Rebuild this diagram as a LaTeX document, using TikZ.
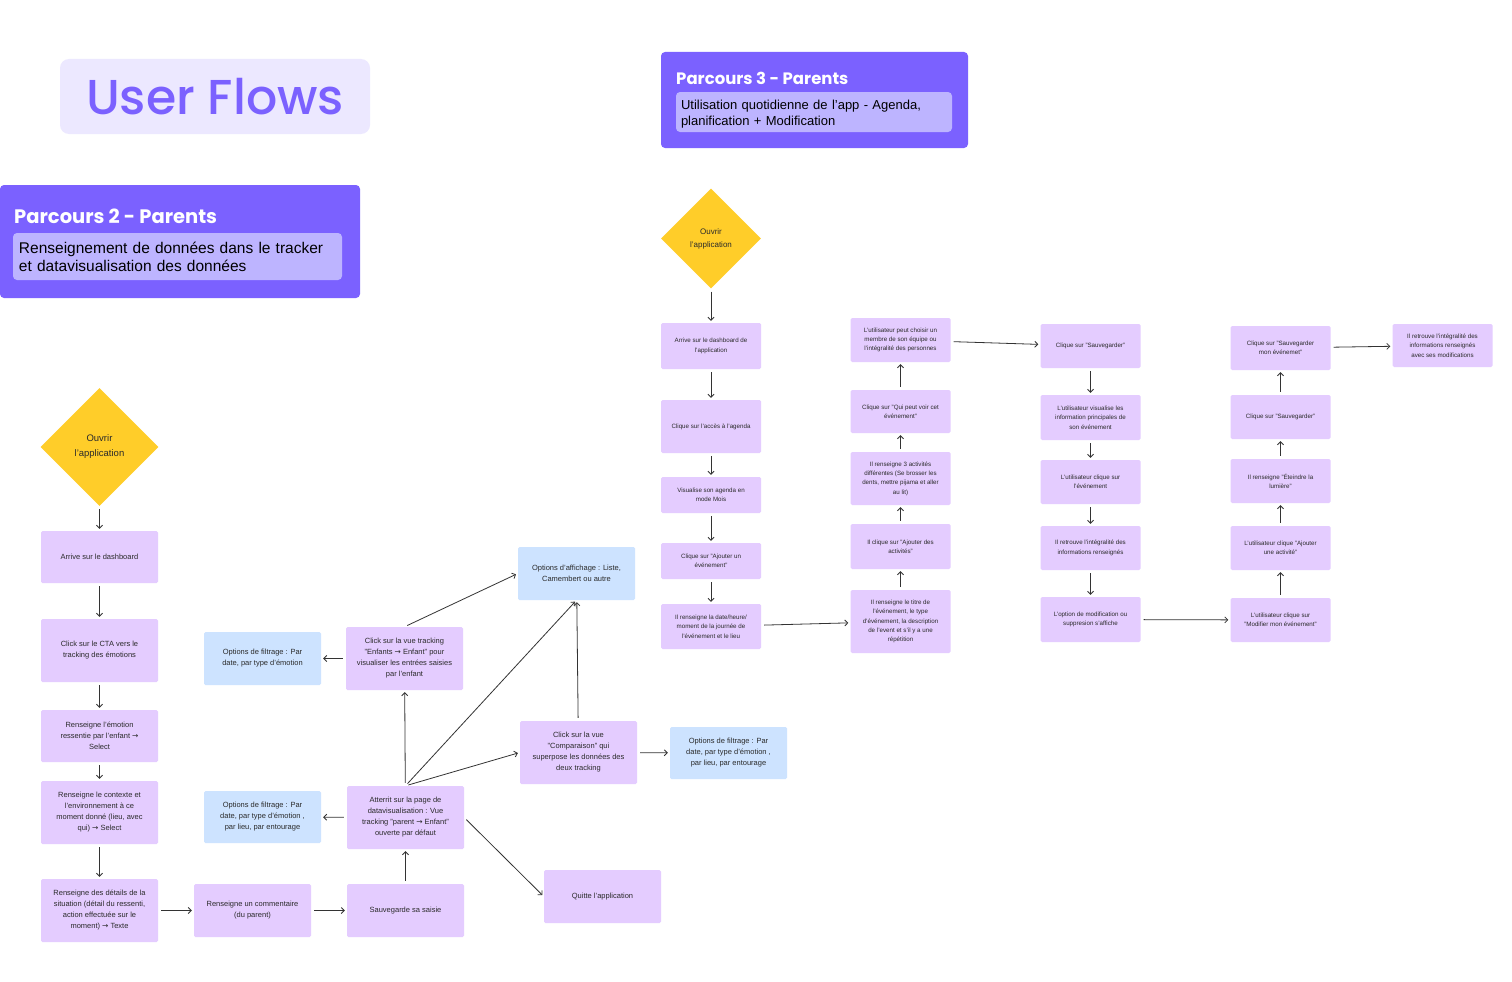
\documentclass[tikz,border=0pt]{standalone}
\usepackage{fontspec}
\setmainfont{Liberation Sans}
\newfontfamily\poppins{Poppins}
\newfontfamily\poppinsmed{Poppins Medium}
\newfontfamily\symboles{DejaVu Sans}
\usetikzlibrary{shapes.geometric, arrows.meta}

\definecolor{violetfonce}{HTML}{7B61FF}
\definecolor{violetmoyen}{HTML}{BDB4FF}
\definecolor{violetpale}{HTML}{ECE8FF}
\definecolor{violetclair}{HTML}{E4CCFF}
\definecolor{bleuclair}{HTML}{CDE3FF}
\definecolor{jaune}{HTML}{FFCD29}
\definecolor{trait}{HTML}{333333}
\definecolor{texte}{HTML}{2A2A2A}

\newcommand{\fl}{{\symboles →}}

\tikzset{
  etape/.style={rectangle, rounded corners=1.5pt, fill=violetclair, minimum width=117pt,
    inner sep=0pt, align=center, text=texte, font=\fontsize{7.5}{11}\selectfont},
  option/.style={etape, fill=bleuclair},
  petite/.style={etape, minimum width=100pt, font=\fontsize{6.2}{9.3}\selectfont},
  losange/.style={diamond, fill=jaune, inner sep=0pt, align=center, text=texte},
  fleche/.style={-{Straight Barb[length=3pt,width=6pt]}, line width=0.8pt, draw=trait,
    shorten <=3pt, shorten >=2pt},
}

\begin{document}
\begin{tikzpicture}[x=1pt, y=-1pt]

    \fill[white] (0,0) rectangle (1512,982);
    \useasboundingbox (0,0) rectangle (1512,982);

    % -- Titre --
    \node (titre) [fill=violetpale, rounded corners=9pt, minimum width=310pt, minimum height=75pt,
        text=violetfonce, font=\poppinsmed\fontsize{49}{49}\selectfont] at (215,96.5) {User Flows};

    % -- En-tete Parcours 2 --
    \node (bandeau2) [fill=violetfonce, rounded corners=4pt, minimum width=360pt, minimum height=113pt] at (180,241.5) {};
    \node (nom2) [anchor=west, inner sep=0pt, text=white, font=\poppins\bfseries\fontsize{19.5}{19.5}\selectfont] at (14,216) {Parcours 2 - Parents};
    \node (sous2) [fill=violetmoyen, rounded corners=4pt, minimum width=329pt, minimum height=47pt,
        text width=317pt, align=left, font=\fontsize{15.5}{18}\selectfont] at (177.5,256.5)
        {Renseignement de données dans le tracker\\et datavisualisation des données};

    % -- En-tete Parcours 3 --
    \node (bandeau3) [fill=violetfonce, rounded corners=4pt, minimum width=307pt, minimum height=96pt] at (814.5,100) {};
    \node (nom3) [anchor=west, inner sep=0pt, text=white, font=\poppins\bfseries\fontsize{16.5}{16.5}\selectfont] at (676,78) {Parcours 3 - Parents};
    \node (sous3) [fill=violetmoyen, rounded corners=4pt, minimum width=276pt, minimum height=40pt,
        text width=266pt, align=left, font=\fontsize{13}{15.5}\selectfont] at (814,112) {};
    \node (texte3) [text width=266pt, align=left, inner sep=0pt, font=\fontsize{13}{15.5}\selectfont] at (814,114)
        {Utilisation quotidienne de l'app - Agenda,\\planification + Modification};

    % -- Parcours 2 : saisie --
    \node (ouvrir2) [losange, minimum width=118pt, minimum height=118pt, font=\fontsize{9.5}{15}\selectfont] at (99.5,447) {Ouvrir\\l'application};
    \node (a1) [etape, minimum height=52pt] at (99.5,557) {Arrive sur le dashboard};
    \node (a2) [etape, minimum height=63pt] at (99.5,650.5) {Click sur le CTA vers le\\tracking des émotions};
    \node (a3) [etape, minimum height=52pt] at (99.5,736) {Renseigne l'émotion\\ressentie par l'enfant \fl\\Select};
    \node (a4) [etape, minimum height=63pt] at (99.5,812.5) {Renseigne le contexte et\\l'environnement à ce\\moment donné (lieu, avec\\qui) \fl{} Select};
    \node (a5) [etape, minimum height=63pt] at (99.5,910.5) {Renseigne des détails de la\\situation (détail du ressenti,\\action effectuée sur le\\moment) \fl{} Texte};
    \node (b1) [etape, minimum height=53pt] at (252.5,910.5) {Renseigne un commentaire\\(du parent)};
    \node (b2) [etape, minimum height=53pt] at (405.5,910.5) {Sauvegarde sa saisie};

    % -- Parcours 2 : datavisualisation --
    \node (c1) [etape, minimum height=63pt] at (405.5,817.5) {Atterrit sur la page de\\datavisualisation : Vue\\tracking "parent \fl{} Enfant"\\ouverte par défaut};
    \node (f2) [option, minimum height=52pt] at (262.5,817) {Options de filtrage : Par\\date, par type d'émotion ,\\par lieu, par entourage};
    \node (d1) [etape, minimum height=63pt] at (404.5,658.5) {Click sur la vue tracking\\"Enfants \fl{} Enfant" pour\\visualiser les entrées saisies\\par l'enfant};
    \node (f1) [option, minimum height=53pt] at (262.5,658.5) {Options de filtrage : Par\\date, par type d'émotion};
    \node (e1) [option, minimum height=53pt] at (576.5,573.5) {Options d'affichage : Liste,\\Camembert ou autre};
    \node (g1) [etape, minimum height=63pt] at (578.5,752.5) {Click sur la vue\\"Comparaison" qui\\superpose les données des\\deux tracking};
    \node (h1) [option, minimum height=52pt] at (728.5,753) {Options de filtrage : Par\\date, par type d'émotion ,\\par lieu, par entourage};
    \node (quitte) [etape, minimum height=53pt] at (602.5,896.5) {Quitte l'application};

    \draw[fleche] (ouvrir2) -- (a1);
    \draw[fleche] (a1) -- (a2);
    \draw[fleche] (a2) -- (a3);
    \draw[fleche] (a3) -- (a4);
    \draw[fleche] (a4) -- (a5);
    \draw[fleche] (a5) -- (b1);
    \draw[fleche] (b1) -- (b2);
    \draw[fleche] (b2) -- (c1);
    \draw[fleche] (c1) -- (f2);
    \draw[fleche] (c1) -- (d1);
    \draw[fleche] (d1) -- (f1);
    \draw[fleche] (d1.north) -- (e1.west);
    \draw[fleche] (c1.north) -- (e1.south);
    \draw[fleche] (c1.north) -- (g1.west);
    \draw[fleche] (g1) -- (e1);
    \draw[fleche] (g1) -- (h1);
    \draw[fleche] (c1.east) -- (quitte.west);

    % -- Parcours 3 : agenda --
    \node (ouvrir3) [losange, minimum width=100pt, minimum height=100pt, font=\fontsize{8}{13}\selectfont] at (711,238.5) {Ouvrir\\l'application};
    \node (p1) [petite, minimum height=46pt] at (711,346) {Arrive sur le dashboard de\\l'application};
    \node (p2) [petite, minimum height=53pt] at (711,426.5) {Clique sur l'accès à l'agenda};
    \node (p3) [petite, minimum height=36pt] at (711,495) {Visualise son agenda en\\mode Mois};
    \node (p4) [petite, minimum height=36pt] at (711,561) {Clique sur "Ajouter un\\événement"};
    \node (p5) [petite, minimum height=45pt] at (711,626.5) {Il renseigne la date/heure/\\moment de la journée de\\l'événement et le lieu};

    \node (q1) [petite, minimum height=44pt] at (900.5,340) {L'utilisateur peut choisir un\\membre de son équipe ou\\l'intégralité des personnes};
    \node (q2) [petite, minimum height=43pt] at (900.5,411.5) {Clique sur "Qui peut voir cet\\événement"};
    \node (q3) [petite, minimum height=53pt] at (900.5,478.5) {Il renseigne 3 activités\\différentes (Se brosser les\\dents, mettre pijama et aller\\au lit)};
    \node (q4) [petite, minimum height=45pt] at (900.5,546.5) {Il clique sur "Ajouter des\\activités"};
    \node (q5) [petite, minimum height=63pt] at (900.5,621.5) {Il renseigne le titre de\\l'événement, le type\\d'événement, la description\\de l'event et s'il y a une\\répétition};

    \node (r1) [petite, minimum height=44pt] at (1090.5,346) {Clique sur "Sauvegarder"};
    \node (r2) [petite, minimum height=45pt] at (1090.5,417.5) {L'utilisateur visualise les\\information principales de\\son événement};
    \node (r3) [petite, minimum height=44pt] at (1090.5,482) {L'utilisateur clique sur\\l'événement};
    \node (r4) [petite, minimum height=44pt] at (1090.5,548) {Il retrouve l'intégralité des\\informations renseignés};
    \node (r5) [petite, minimum height=45pt] at (1090.5,619.5) {L'option de modification ou\\suppresion s'affiche};

    \node (s1) [petite, minimum height=44pt] at (1280.5,348) {Clique sur "Sauvegarder\\mon événemet"};
    \node (s2) [petite, minimum height=44pt] at (1280.5,417) {Clique sur "Sauvegarder"};
    \node (s3) [petite, minimum height=44pt] at (1280.5,481) {Il renseigne "Éteindre la\\lumière"};
    \node (s4) [petite, minimum height=44pt] at (1280.5,548) {L'utilisateur clique "Ajouter\\une activité"};
    \node (s5) [petite, minimum height=44pt] at (1280.5,620) {L'utilisateur clique sur\\"Modifier mon événement"};
    \node (fin) [petite, minimum height=43pt] at (1442.5,345.5) {Il retrouve l'intégralité des\\informations renseignés\\avec ses modifications};

    \draw[fleche] (ouvrir3) -- (p1);
    \draw[fleche] (p1) -- (p2);
    \draw[fleche] (p2) -- (p3);
    \draw[fleche] (p3) -- (p4);
    \draw[fleche] (p4) -- (p5);
    \draw[fleche] (p5) -- (q5);
    \draw[fleche] (q5) -- (q4);
    \draw[fleche] (q4) -- (q3);
    \draw[fleche] (q3) -- (q2);
    \draw[fleche] (q2) -- (q1);
    \draw[fleche] (q1) -- (r1);
    \draw[fleche] (r1) -- (r2);
    \draw[fleche] (r2) -- (r3);
    \draw[fleche] (r3) -- (r4);
    \draw[fleche] (r4) -- (r5);
    \draw[fleche] (r5) -- (s5);
    \draw[fleche] (s5) -- (s4);
    \draw[fleche] (s4) -- (s3);
    \draw[fleche] (s3) -- (s2);
    \draw[fleche] (s2) -- (s1);
    \draw[fleche] (s1) -- (fin);
\end{tikzpicture}
\end{document}
